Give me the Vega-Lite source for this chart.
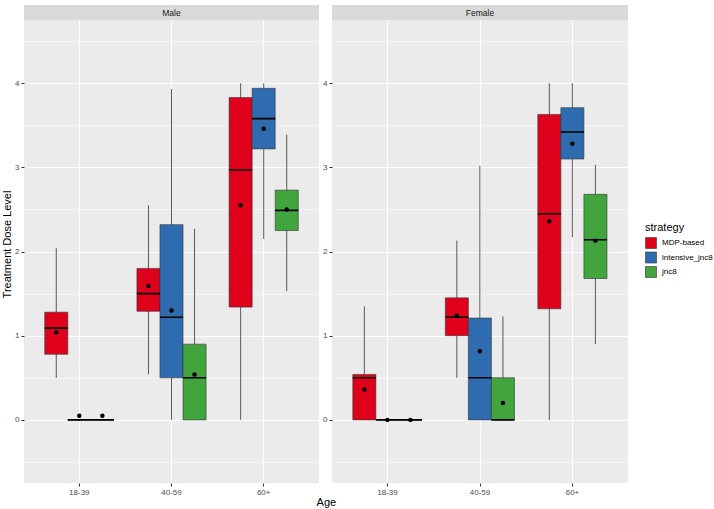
{
  "$schema": "https://vega.github.io/schema/vega-lite/v6.json",
  "padding": {"left": 1, "top": 5, "right": 0, "bottom": 0},
  "datasets": {
    "stats": [
      {"sex": "Male", "age": "18-39", "strategy": "MDP-based", "lower": 0.50, "q1": 0.78, "median": 1.09, "q3": 1.28, "upper": 2.04, "mean": 1.04},
      {"sex": "Male", "age": "18-39", "strategy": "intensive_jnc8", "lower": 0, "q1": 0, "median": 0, "q3": 0, "upper": 0, "mean": 0.05},
      {"sex": "Male", "age": "18-39", "strategy": "jnc8", "lower": 0, "q1": 0, "median": 0, "q3": 0, "upper": 0, "mean": 0.05},
      {"sex": "Male", "age": "40-59", "strategy": "MDP-based", "lower": 0.54, "q1": 1.29, "median": 1.50, "q3": 1.80, "upper": 2.55, "mean": 1.59},
      {"sex": "Male", "age": "40-59", "strategy": "intensive_jnc8", "lower": 0, "q1": 0.50, "median": 1.22, "q3": 2.32, "upper": 3.93, "mean": 1.30},
      {"sex": "Male", "age": "40-59", "strategy": "jnc8", "lower": 0, "q1": 0, "median": 0.50, "q3": 0.90, "upper": 2.27, "mean": 0.54},
      {"sex": "Male", "age": "60+", "strategy": "MDP-based", "lower": 0, "q1": 1.34, "median": 2.97, "q3": 3.83, "upper": 4.0, "mean": 2.55},
      {"sex": "Male", "age": "60+", "strategy": "intensive_jnc8", "lower": 2.15, "q1": 3.22, "median": 3.58, "q3": 3.94, "upper": 4.0, "mean": 3.46},
      {"sex": "Male", "age": "60+", "strategy": "jnc8", "lower": 1.53, "q1": 2.25, "median": 2.49, "q3": 2.73, "upper": 3.39, "mean": 2.50},
      {"sex": "Female", "age": "18-39", "strategy": "MDP-based", "lower": 0, "q1": 0, "median": 0.50, "q3": 0.54, "upper": 1.35, "mean": 0.36},
      {"sex": "Female", "age": "18-39", "strategy": "intensive_jnc8", "lower": 0, "q1": 0, "median": 0, "q3": 0, "upper": 0, "mean": 0},
      {"sex": "Female", "age": "18-39", "strategy": "jnc8", "lower": 0, "q1": 0, "median": 0, "q3": 0, "upper": 0, "mean": 0},
      {"sex": "Female", "age": "40-59", "strategy": "MDP-based", "lower": 0.50, "q1": 1.00, "median": 1.22, "q3": 1.45, "upper": 2.13, "mean": 1.24},
      {"sex": "Female", "age": "40-59", "strategy": "intensive_jnc8", "lower": 0, "q1": 0, "median": 0.50, "q3": 1.21, "upper": 3.02, "mean": 0.815},
      {"sex": "Female", "age": "40-59", "strategy": "jnc8", "lower": 0, "q1": 0, "median": 0, "q3": 0.50, "upper": 1.23, "mean": 0.20},
      {"sex": "Female", "age": "60+", "strategy": "MDP-based", "lower": 0, "q1": 1.32, "median": 2.45, "q3": 3.63, "upper": 4.0, "mean": 2.36},
      {"sex": "Female", "age": "60+", "strategy": "intensive_jnc8", "lower": 2.17, "q1": 3.10, "median": 3.42, "q3": 3.71, "upper": 4.0, "mean": 3.28},
      {"sex": "Female", "age": "60+", "strategy": "jnc8", "lower": 0.90, "q1": 1.68, "median": 2.14, "q3": 2.68, "upper": 3.03, "mean": 2.13}
    ]
  },
  "title": {"text": "Age", "orient": "bottom", "anchor": "start", "dx": 315, "offset": 1, "fontSize": 11, "fontWeight": "normal", "font": "Liberation Sans", "color": "black"},
  "hconcat": [
    {
      "width": 295,
      "height": 478,
      "layer": [
        {
          "data": {"values": [{"label": "Male"}]},
          "mark": {"type": "rect", "fill": "#D9D9D9"},
          "encoding": {
            "y": {"datum": 4.75, "type": "quantitative", "scale": {"domain": [-0.75, 4.93], "nice": false, "zero": false}},
            "y2": {"datum": 4.93}
          }
        },
        {
          "data": {"values": [{"label": "Male"}]},
          "mark": {"type": "text", "fontSize": 8.5, "font": "Liberation Sans", "color": "#1A1A1A", "baseline": "middle"},
          "encoding": {
            "x": {"datum": "40-59", "type": "nominal", "bandPosition": 0.5},
            "y": {"datum": 4.84, "type": "quantitative"},
            "text": {"field": "label"}
          }
        },
        {
          "data": {"name": "stats"},
          "transform": [{"filter": "datum.sex === 'Male'"}],
          "mark": {"type": "rule", "color": "#333333", "strokeWidth": 0.8},
          "encoding": {
            "x": {"field": "age", "type": "nominal", "scale": {"domain": ["18-39", "40-59", "60+"], "paddingInner": 0.25, "paddingOuter": 0.225}, "axis": {"title": null, "labelAngle": 0, "labelAlign": "center", "labelBaseline": "top"}},
            "xOffset": {"field": "strategy", "type": "nominal", "scale": {"domain": ["MDP-based", "intensive_jnc8", "jnc8"], "paddingInner": 0, "paddingOuter": 0}},
            "y": {"field": "lower", "type": "quantitative", "axis": {"title": "Treatment Dose Level", "values": [-0.5, 0, 0.5, 1, 1.5, 2, 2.5, 3, 3.5, 4, 4.5], "labelExpr": "datum.value % 1 === 0 ? format(datum.value, 'd') : ''", "gridWidth": {"condition": {"test": "datum.value % 1 !== 0", "value": 0.5}, "value": 1.1}, "tickOpacity": {"condition": {"test": "datum.value % 1 !== 0", "value": 0}, "value": 1}}},
            "y2": {"field": "upper"}
          }
        },
        {
          "data": {"name": "stats"},
          "transform": [{"filter": "datum.sex === 'Male'"}],
          "mark": {"type": "bar", "stroke": "#333333", "strokeWidth": 0.6},
          "encoding": {
            "x": {"field": "age", "type": "nominal"},
            "xOffset": {"field": "strategy", "type": "nominal"},
            "y": {"field": "q1", "type": "quantitative"},
            "y2": {"field": "q3"},
            "color": {"field": "strategy", "type": "nominal", "scale": {"domain": ["MDP-based", "intensive_jnc8", "jnc8"], "range": ["#DF001C", "#2F6CAF", "#41A43D"]},
              "legend": {"title": "strategy", "orient": "none", "legendX": 621, "legendY": 217, "symbolType": "square", "symbolSize": 121, "symbolStrokeColor": "#333333", "symbolStrokeWidth": 0.6, "rowPadding": 0.5, "labelFontSize": 8, "titleFontSize": 11, "titleFontWeight": "normal", "titlePadding": 4, "labelFont": "Liberation Sans", "titleFont": "Liberation Sans", "labelColor": "black", "titleColor": "black", "labelLimit": 200, "labelOffset": 5}}
          }
        },
        {
          "data": {"name": "stats"},
          "transform": [{"filter": "datum.sex === 'Male'"}],
          "mark": {"type": "bar", "stroke": "black", "strokeWidth": 1.6, "fillOpacity": 0},
          "encoding": {
            "x": {"field": "age", "type": "nominal"},
            "xOffset": {"field": "strategy", "type": "nominal"},
            "y": {"field": "median", "type": "quantitative"},
            "y2": {"field": "median"}
          }
        },
        {
          "data": {"name": "stats"},
          "transform": [{"filter": "datum.sex === 'Male'"}],
          "mark": {"type": "point", "filled": true, "color": "black", "opacity": 1, "size": 20},
          "encoding": {
            "x": {"field": "age", "type": "nominal"},
            "xOffset": {"field": "strategy", "type": "nominal"},
            "y": {"field": "mean", "type": "quantitative"}
          }
        }
      ]
    },
    {
      "width": 296,
      "height": 478,
      "layer": [
        {
          "data": {"values": [{"label": "Female"}]},
          "mark": {"type": "rect", "fill": "#D9D9D9"},
          "encoding": {
            "y": {"datum": 4.75, "type": "quantitative", "scale": {"domain": [-0.75, 4.93], "nice": false, "zero": false}},
            "y2": {"datum": 4.93}
          }
        },
        {
          "data": {"values": [{"label": "Female"}]},
          "mark": {"type": "text", "fontSize": 8.5, "font": "Liberation Sans", "color": "#1A1A1A", "baseline": "middle"},
          "encoding": {
            "x": {"datum": "40-59", "type": "nominal", "bandPosition": 0.5},
            "y": {"datum": 4.84, "type": "quantitative"},
            "text": {"field": "label"}
          }
        },
        {
          "data": {"name": "stats"},
          "transform": [{"filter": "datum.sex === 'Female'"}],
          "mark": {"type": "rule", "color": "#333333", "strokeWidth": 0.8},
          "encoding": {
            "x": {"field": "age", "type": "nominal", "scale": {"domain": ["18-39", "40-59", "60+"], "paddingInner": 0.25, "paddingOuter": 0.225}, "axis": {"title": null, "labelAngle": 0, "labelAlign": "center", "labelBaseline": "top"}},
            "xOffset": {"field": "strategy", "type": "nominal", "scale": {"domain": ["MDP-based", "intensive_jnc8", "jnc8"], "paddingInner": 0, "paddingOuter": 0}},
            "y": {"field": "lower", "type": "quantitative", "axis": {"title": null, "values": [-0.5, 0, 0.5, 1, 1.5, 2, 2.5, 3, 3.5, 4, 4.5], "labelExpr": "datum.value % 1 === 0 ? format(datum.value, 'd') : ''", "gridWidth": {"condition": {"test": "datum.value % 1 !== 0", "value": 0.5}, "value": 1.1}, "tickOpacity": {"condition": {"test": "datum.value % 1 !== 0", "value": 0}, "value": 1}}},
            "y2": {"field": "upper"}
          }
        },
        {
          "data": {"name": "stats"},
          "transform": [{"filter": "datum.sex === 'Female'"}],
          "mark": {"type": "bar", "stroke": "#333333", "strokeWidth": 0.6},
          "encoding": {
            "x": {"field": "age", "type": "nominal"},
            "xOffset": {"field": "strategy", "type": "nominal"},
            "y": {"field": "q1", "type": "quantitative"},
            "y2": {"field": "q3"},
            "color": {"field": "strategy", "type": "nominal"}
          }
        },
        {
          "data": {"name": "stats"},
          "transform": [{"filter": "datum.sex === 'Female'"}],
          "mark": {"type": "bar", "stroke": "black", "strokeWidth": 1.6, "fillOpacity": 0},
          "encoding": {
            "x": {"field": "age", "type": "nominal"},
            "xOffset": {"field": "strategy", "type": "nominal"},
            "y": {"field": "median", "type": "quantitative"},
            "y2": {"field": "median"}
          }
        },
        {
          "data": {"name": "stats"},
          "transform": [{"filter": "datum.sex === 'Female'"}],
          "mark": {"type": "point", "filled": true, "color": "black", "opacity": 1, "size": 20},
          "encoding": {
            "x": {"field": "age", "type": "nominal"},
            "xOffset": {"field": "strategy", "type": "nominal"},
            "y": {"field": "mean", "type": "quantitative"}
          }
        }
      ]
    }
  ],
  "spacing": 3,
  "config": {
    "view": {"fill": "#EBEBEB", "stroke": null},
    "font": "Liberation Sans",
    "axis": {
      "domain": false,
      "grid": true,
      "gridColor": "white",
      "gridWidth": 1.1,
      "tickColor": "#333333",
      "tickSize": 3,
      "labelColor": "#4D4D4D",
      "labelFont": "Liberation Sans",
      "labelFontSize": 8,
      "labelPadding": 2,
      "titleFont": "Liberation Sans",
      "titleFontSize": 11,
      "titleFontWeight": "normal",
      "titleColor": "black",
      "titlePadding": 2
    }
  }
}
